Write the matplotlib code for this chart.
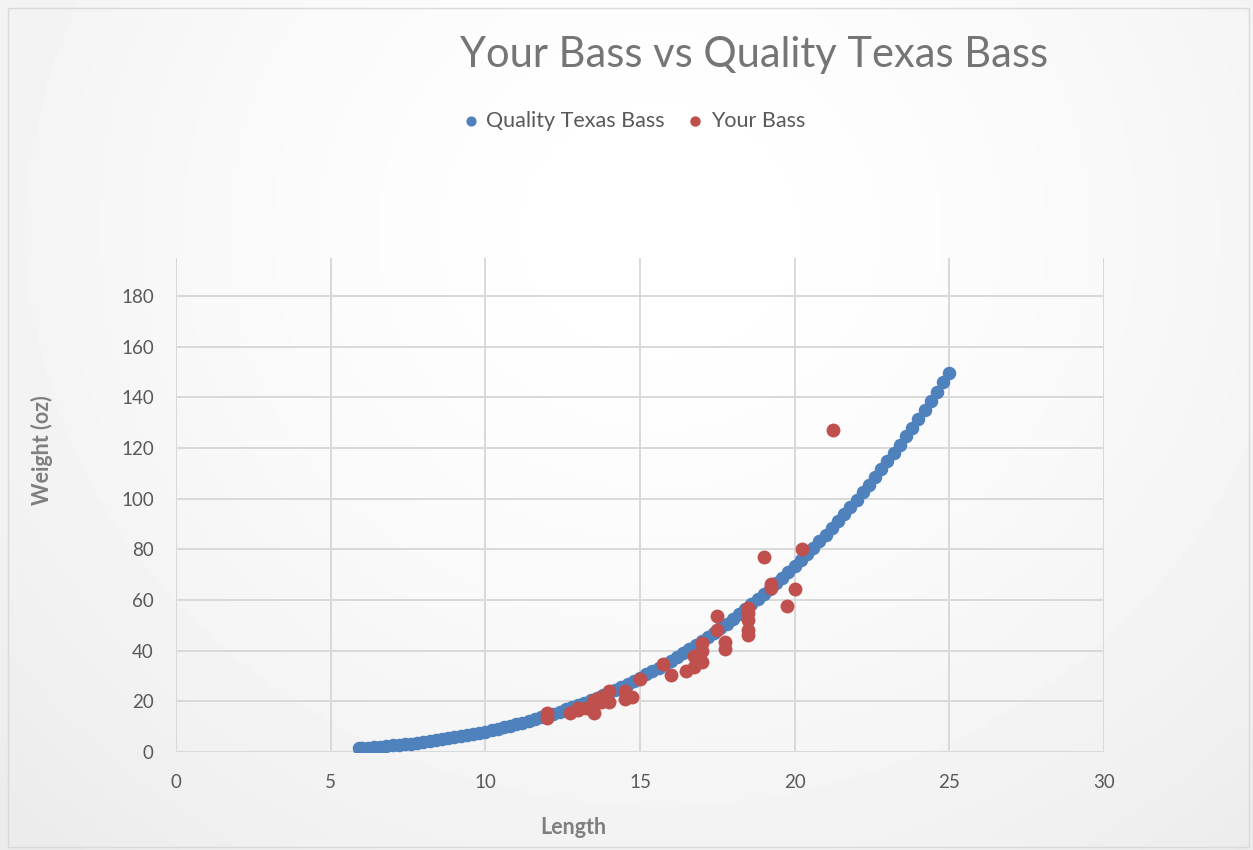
import numpy as np
import matplotlib
matplotlib.use("Agg")
import matplotlib.pyplot as plt
from matplotlib.patches import Rectangle

#기준 곡선 (Quality Texas Bass) : 길이(inch), 무게(oz)
q_len = [5.91, 6.0, 6.2, 6.4, 6.6, 6.8, 7.0, 7.2, 7.4, 7.6, 7.8,
         8.0, 8.2, 8.4, 8.6, 8.8, 9.0, 9.2, 9.4, 9.6, 9.8,
         10.0, 10.2, 10.4, 10.6, 10.8, 11.0, 11.2, 11.4, 11.6, 11.8,
         12.0, 12.2, 12.4, 12.6, 12.8, 13.0, 13.2, 13.4, 13.6, 13.8,
         14.0, 14.2, 14.4, 14.6, 14.8, 15.0, 15.2, 15.4, 15.6, 15.8,
         16.0, 16.2, 16.4, 16.6, 16.8, 17.0, 17.2, 17.4, 17.6, 17.8,
         18.0, 18.2, 18.4, 18.6, 18.8, 19.0, 19.2, 19.4, 19.6, 19.8,
         20.0, 20.2, 20.4, 20.6, 20.8, 21.0, 21.2, 21.4, 21.6, 21.8,
         22.0, 22.2, 22.4, 22.6, 22.8, 23.0, 23.2, 23.4, 23.6, 23.8,
         24.0, 24.2, 24.4, 24.6, 24.8, 25.0]
q_wt = [1.50, 1.58, 1.75, 1.94, 2.14, 2.35, 2.58, 2.82, 3.08, 3.35, 3.64,
        3.95, 4.27, 4.61, 4.97, 5.35, 5.75, 6.16, 6.60, 7.06, 7.54,
        8.04, 8.57, 9.11, 9.69, 10.28, 10.90, 11.55, 12.22, 12.91, 13.64,
        14.39, 15.17, 15.98, 16.81, 17.68, 18.58, 19.50, 20.46, 21.45, 22.48,
        23.53, 24.62, 25.75, 26.91, 28.10, 29.33, 30.60, 31.90, 33.24, 34.62,
        36.04, 37.49, 38.99, 40.53, 42.11, 43.73, 45.39, 47.10, 48.84, 50.64,
        52.48, 54.36, 56.29, 58.26, 60.29, 62.36, 64.48, 66.64, 68.86, 71.13,
        73.45, 75.82, 78.24, 80.71, 83.24, 85.82, 88.45, 91.15, 93.89, 96.69,
        99.55, 102.47, 105.44, 108.48, 111.57, 114.72, 117.94, 121.21, 124.55, 127.95,
        131.41, 134.94, 138.53, 142.19, 145.91, 149.70]

#내가 잡은 배스 : 길이(inch), 무게(oz)
y_len = [12.0, 12.0, 12.75, 13.0, 13.0, 13.25, 13.5, 13.5, 13.5, 13.75,
         13.75, 14.0, 14.0, 14.5, 14.5, 14.75, 15.0, 15.75, 16.0, 16.5,
         16.75, 16.75, 17.0, 17.0, 17.0, 17.5, 17.5, 17.75, 17.75, 18.5,
         18.5, 18.5, 18.5, 18.5, 19.0, 19.25, 19.25, 19.75, 20.0, 20.25,
         21.25]
y_wt = [15.3, 13.4, 15.5, 16.6, 17.2, 17.3, 15.4, 20.6, 18.6, 19.9,
        21.9, 19.9, 23.9, 23.9, 20.8, 21.9, 28.8, 34.7, 30.5, 32.0,
        37.7, 33.7, 35.7, 39.7, 43.0, 48.0, 53.5, 43.6, 40.6, 57.0,
        55.0, 52.0, 48.2, 46.2, 77.0, 66.3, 64.8, 57.5, 64.5, 80.0,
        127.0]

x_ticks = [0, 5, 10, 15, 20, 25, 30]
y_ticks = [0, 20, 40, 60, 80, 100, 120, 140, 160, 180]

plt.rcParams['font.family'] = ['Lato', 'DejaVu Sans']

fig = plt.figure(figsize=(12.53, 8.5), dpi=100)

#배경 그라데이션
bg = fig.add_axes([0, 0, 1, 1])
gx, gy = np.meshgrid(np.linspace(0, 1253, 300), np.linspace(0, 850, 200))
r = np.sqrt((gx - 660) ** 2 + ((gy - 230) * 1.1) ** 2) / 900
shade = 1 - 0.075 * np.clip(r, 0, 1) ** 1.6
bg.imshow(shade, cmap='gray', vmin=0, vmax=1, aspect='auto', extent=[0, 1, 0, 1])
bg.set_xlim(0, 1)
bg.set_ylim(0, 1)
bg.axis('off')
bg.add_patch(Rectangle((0.006, 0.003), 0.991, 0.988, fill=False, edgecolor='#d9d9d9', linewidth=1))

ax = fig.add_axes([176 / 1253, 1 - 752 / 850, 928 / 1253, 494 / 850])
ax.set_facecolor('none')
ax.scatter(q_len, q_wt, s=95, color='#4f81bd', label='Quality Texas Bass', zorder=3, linewidths=0)
ax.scatter(y_len, y_wt, s=100, color='#c0504d', label='Your Bass', zorder=4, linewidths=0)

ax.set_xlim(0, 30)
ax.set_ylim(0, 195)
ax.set_xticks(x_ticks)
ax.set_yticks(y_ticks)
ax.grid(True, color='#d9d9d9', linewidth=1.4)
ax.set_axisbelow(True)
for s in ax.spines.values():
    s.set_visible(False)
ax.tick_params(length=0, labelsize=13.5, colors='#595959', pad=16)

fig.text(754 / 1253, 0.935, 'Your Bass vs Quality Texas Bass', ha='center', va='center',
         fontsize=30, color='#757575')
fig.text(573.5 / 1253, 1 - 828 / 850, 'Length', ha='center', va='center',
         fontsize=15.5, color='#7f7f7f', fontweight='bold')
fig.text(42 / 1253, 1 - 450 / 850, 'Weight (oz)', ha='center', va='center', rotation=90,
         fontsize=15.5, color='#7f7f7f', fontweight='bold')

leg = ax.legend(loc='center', bbox_to_anchor=(627 / 1253, 1 - 121 / 850),
                bbox_transform=fig.transFigure, ncol=2, frameon=False,
                fontsize=15.5, handletextpad=-0.3, columnspacing=0.45, markerscale=0.75)
for t in leg.get_texts():
    t.set_color('#595959')

plt.savefig('out.png', dpi=100)
